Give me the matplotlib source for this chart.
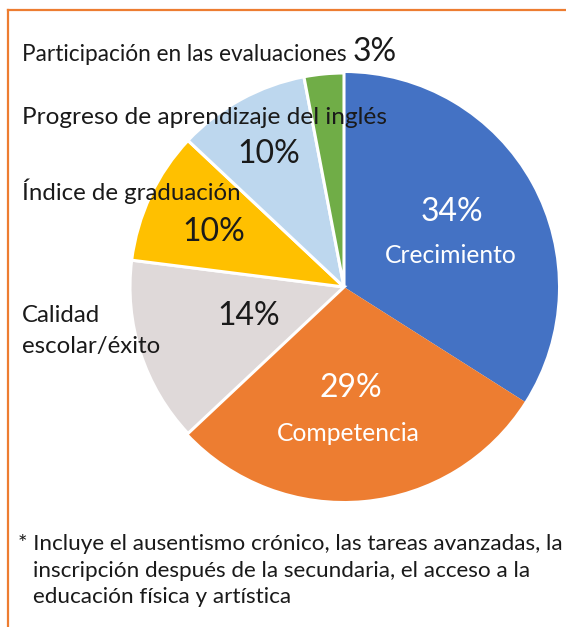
import matplotlib
matplotlib.use("Agg")
import matplotlib.pyplot as plt
from matplotlib.lines import Line2D

plt.rcParams['font.family'] = ['Lato', 'DejaVu Sans']

# data
categories = ["Crecimiento", "Competencia", "Calidad escolar/éxito",
              "Índice de graduación", "Progreso de aprendizaje del inglés",
              "Participación en las evaluaciones"]
values = [34, 29, 14, 10, 10, 3]
colors = ["#4472C4", "#ED7D31", "#DFD9D9", "#FFC000", "#BDD7EE", "#70AD47"]
footnote = ["* Incluye el ausentismo crónico, las tareas avanzadas, la",
            "inscripción después de la secundaria, el acceso a la",
            "educación física y artística"]

W, H = 566, 627
fig = plt.figure(figsize=(W / 100, H / 100), dpi=100)
ax = fig.add_axes([0, 0, 1, 1])

wedges, _ = ax.pie(values, colors=colors, startangle=90, counterclock=False,
                   center=(344, H - 287), radius=214)
for i, w in enumerate(wedges):
    if i >= 2:
        w.set_edgecolor("white")
        w.set_linewidth(2.2)
    else:
        w.set_linewidth(0)

ax.set_xlim(0, W)
ax.set_ylim(0, H)
ax.set_aspect("equal")
ax.axis("off")

dark = "#1a1a1a"
big = 23

def px(y):
    return H - y

# percentage labels (x, y center in pixels from top-left)
pct_pos = [(452, 212), (351, 388), (249, 316), (214, 232), (269, 154)]
pct_col = ["white", "white", dark, dark, dark]
for v, (x, y), c in zip(values[:5], pct_pos, pct_col):
    ax.text(x, px(y), f"{v}%", fontsize=big, color=c, ha="center", va="center")

ax.text(451, px(263), categories[0], fontsize=17.7, color="white", ha="center", va="baseline")
ax.text(348, px(441), categories[1], fontsize=17.7, color="white", ha="center", va="baseline")

# outside labels
ax.text(22, px(322), "Calidad", fontsize=17.3, color=dark, ha="left", va="baseline")
ax.text(22, px(353), "escolar/éxito", fontsize=17.3, color=dark, ha="left", va="baseline")
ax.text(22, px(200), categories[3], fontsize=17.3, color=dark, ha="left", va="baseline")
ax.text(22, px(124), categories[4], fontsize=17.6, color=dark, ha="left", va="baseline")
t = ax.text(22, px(61), categories[5] + " ", fontsize=16.3, color=dark, ha="left", va="baseline")
fig.canvas.draw()
bb = t.get_window_extent()
ax.text(bb.x1, px(61), f"{values[5]}%", fontsize=big, color=dark, ha="left", va="baseline")

# footnote
fs = 16.2
ax.text(18, px(550), footnote[0], fontsize=fs, color=dark, ha="left", va="baseline")
ax.text(33, px(577), footnote[1], fontsize=fs, color=dark, ha="left", va="baseline")
ax.text(33, px(603), footnote[2], fontsize=fs, color=dark, ha="left", va="baseline")

# orange frame (top and left)
fig.add_artist(Line2D([8 / W, 1], [1 - 10 / H, 1 - 10 / H], transform=fig.transFigure,
                      color="#ED7D31", lw=1.6))
fig.add_artist(Line2D([8 / W, 8 / W], [0, 1 - 10 / H], transform=fig.transFigure,
                      color="#ED7D31", lw=1.6))

fig.savefig("out.png", dpi=100)
